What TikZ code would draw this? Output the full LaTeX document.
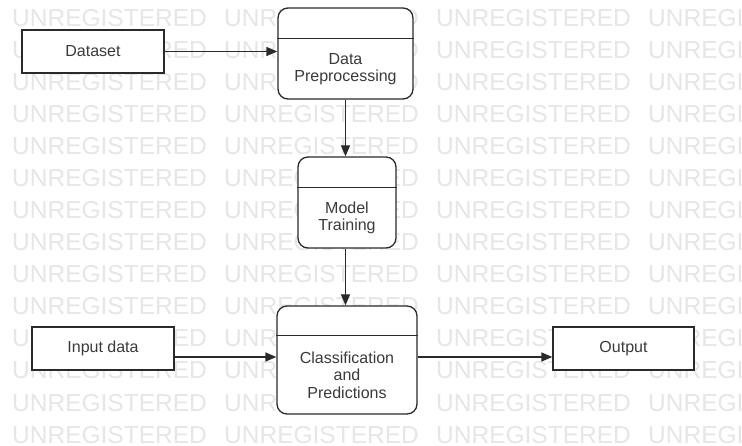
\documentclass[tikz,border=0pt]{standalone}
\usepackage{fontspec}
\setmainfont{Liberation Sans}
\usetikzlibrary{arrows.meta,calc}
\definecolor{ln}{HTML}{2A2A2A}
\definecolor{tx}{HTML}{3A3A3A}
\definecolor{wm}{HTML}{E6E6E6}
\begin{document}
\begin{tikzpicture}[x=1pt,y=-1pt,
  wmark/.style={text=wm,font=\fontsize{24.5}{26}\selectfont,anchor=base west,inner sep=0pt},
  plainbox/.style={draw=ln,line width=1.3pt,fill=white,inner sep=0pt},
  procbox/.style={draw=ln,line width=1.3pt,fill=white,rounded corners=10pt,inner sep=0pt},
  lbl/.style={text=tx,align=center,font=\fontsize{16}{17.5}\selectfont,inner sep=0pt},
  conn/.style={draw=ln,line width=1.3pt,-{Triangle[length=11pt,width=9pt]}},
  divider/.style={draw=ln,line width=1.3pt}]
\useasboundingbox (0,0) rectangle (742,446);
\fill[white] (0,0) rectangle (742,446);
% watermark
\foreach \r in {0,...,13}{
  \foreach \c in {12,224,436,648}{
    \node[wmark] (w\r-\c) at (\c,27+32*\r) {UNREGISTERED};
  }
}
% boxes
\node[plainbox,minimum width=142pt,minimum height=43pt] (ds) at (93,51.5) {};
\node[lbl] (dsl) at (ds.center) {Dataset};
\node[plainbox,minimum width=142pt,minimum height=43pt] (in) at (103,348.5) {};
\node[lbl] (inl) at (in.center) {Input data};
\node[plainbox,minimum width=141pt,minimum height=43pt] (out) at (623.5,348.5) {};
\node[lbl] (outl) at (out.center) {Output};

\node[procbox,minimum width=135pt,minimum height=91pt] (dp) at (345.5,53.5) {};
\draw[divider] ($(dp.north west)+(0,31)$) -- ($(dp.north east)+(0,31)$);
\node[lbl] (dpl) at (345.5,69) {Data\\Preprocessing};

\node[procbox,minimum width=98pt,minimum height=91pt] (mt) at (347,202.5) {};
\draw[divider] ($(mt.north west)+(0,31)$) -- ($(mt.north east)+(0,31)$);
\node[lbl] (mtl) at (347,218) {Model\\Training};

\node[procbox,minimum width=140pt,minimum height=108pt] (cl) at (347,360) {};
\draw[divider] ($(cl.north west)+(0,30)$) -- ($(cl.north east)+(0,30)$);
\node[lbl] (cll) at (347,375) {Classification\\and\\Predictions};

% connectors
\draw[conn] (ds.east) -- (ds.east -| dp.west);
\draw[conn] (dp.south) -- (dp.south |- mt.north);
\draw[conn] (dp.south |- mt.south) -- (dp.south |- cl.north);
\coordinate (a1) at ([yshift=-8.5pt]in.east);
\draw[conn] (a1) -- (a1 -| cl.west);
\coordinate (a2) at ([yshift=-8.5pt]out.west);
\draw[conn] (a2 -| cl.east) -- (a2);
\end{tikzpicture}
\end{document}
